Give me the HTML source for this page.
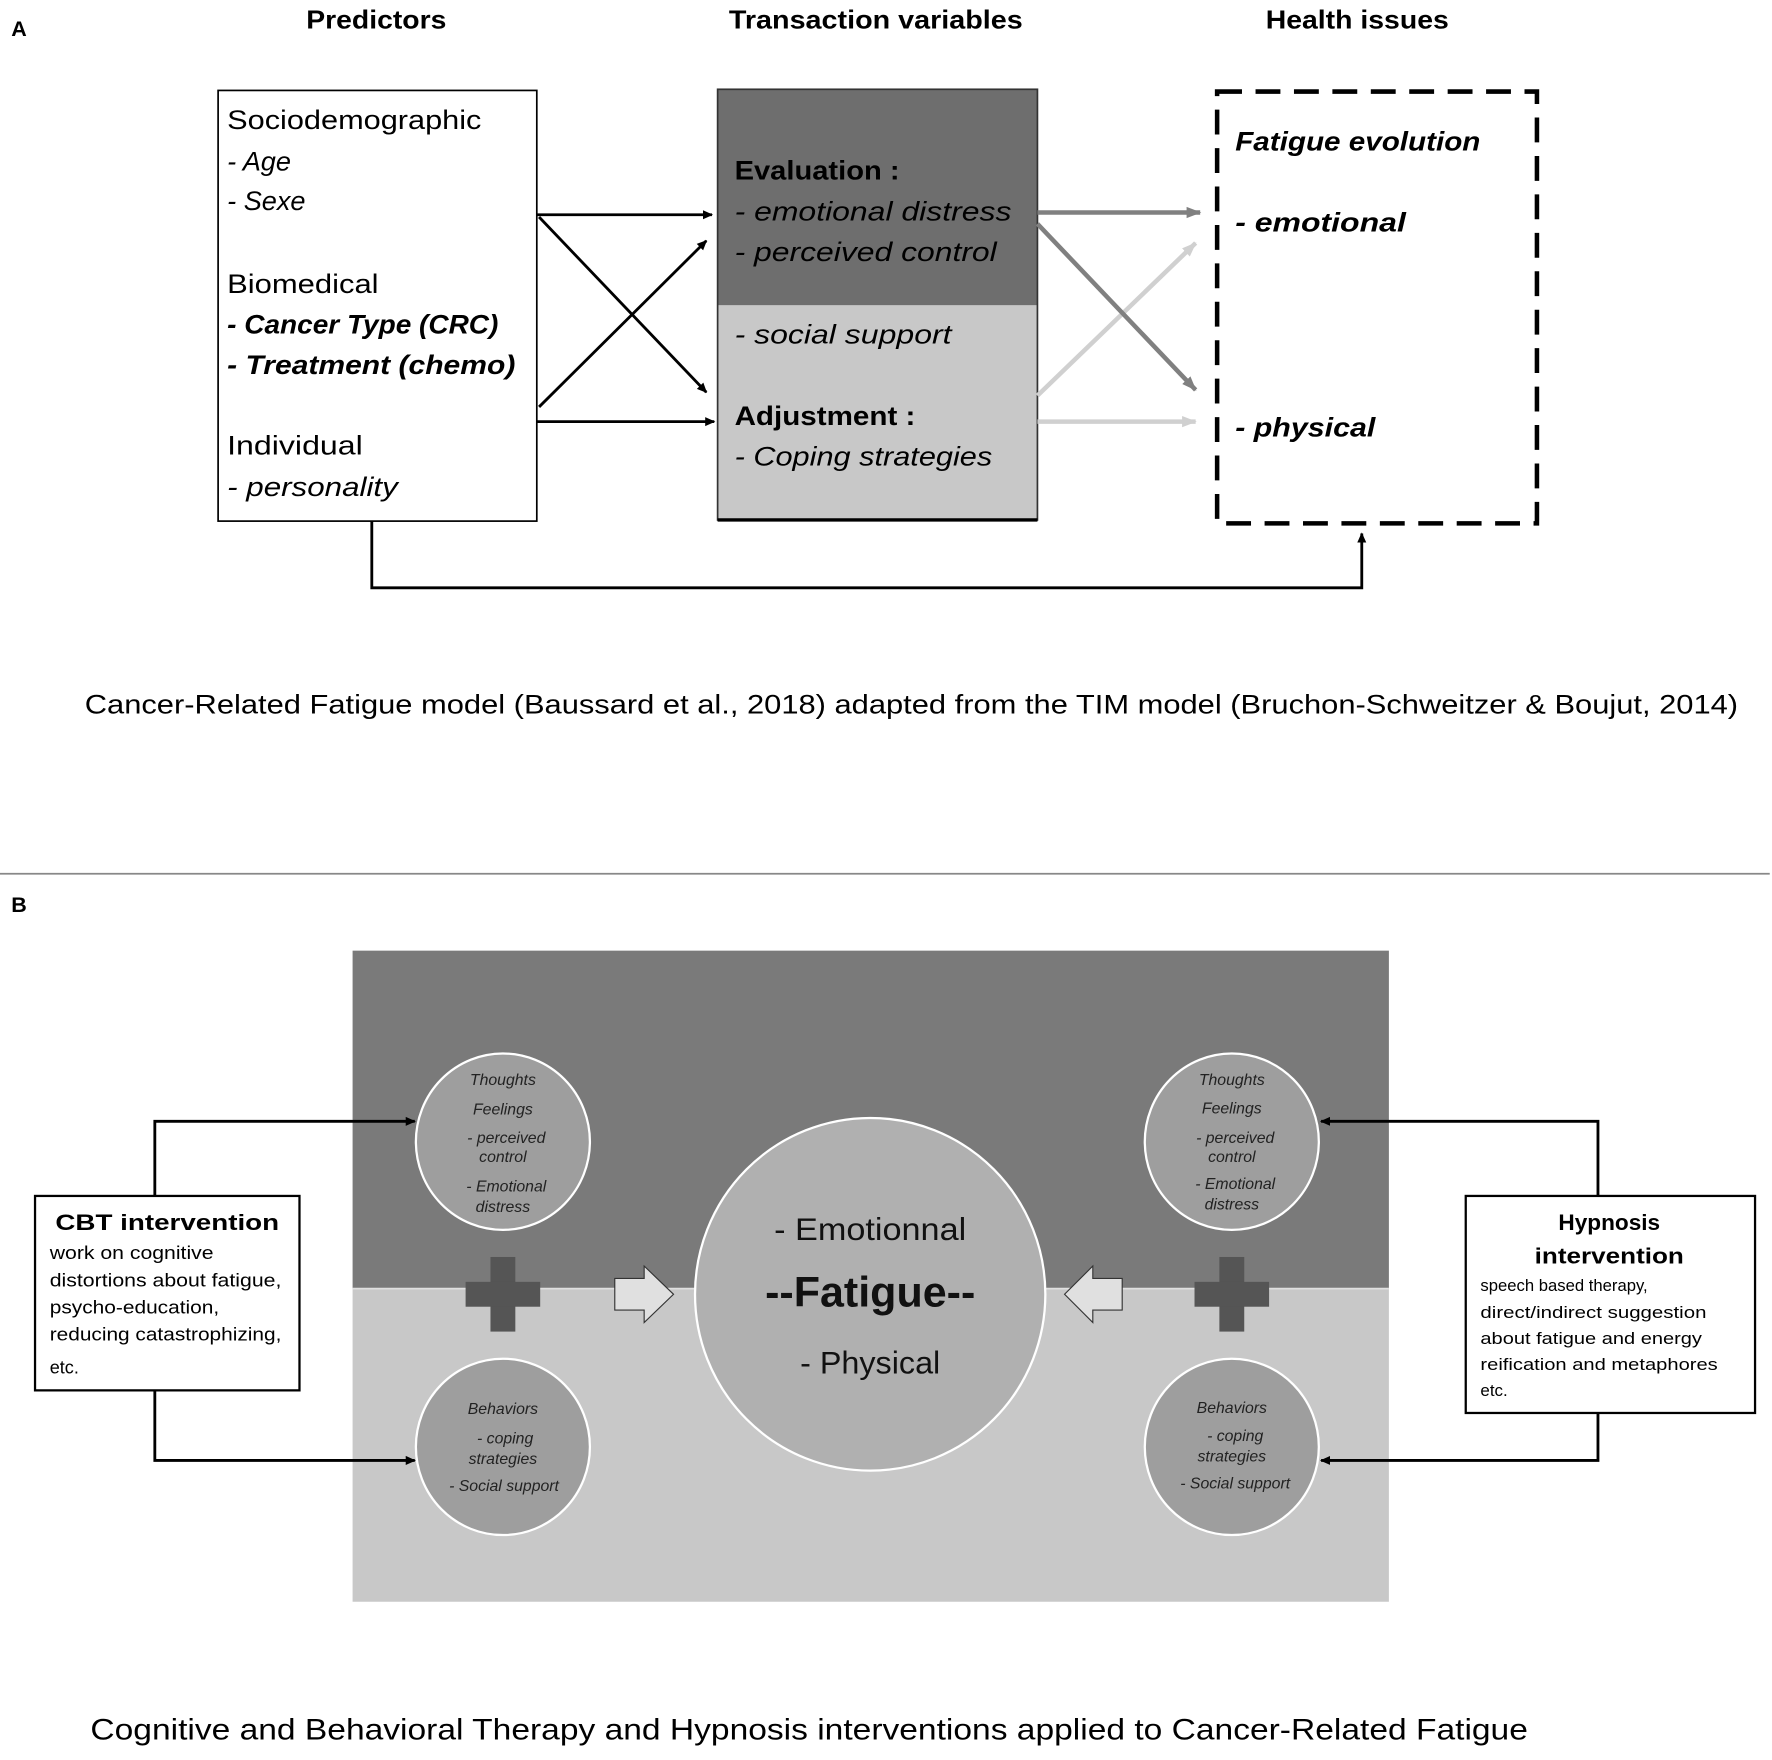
<!DOCTYPE html>
<html><head><meta charset="utf-8"><style>html,body{margin:0;padding:0;background:#fff}svg{display:block}</style></head>
<body>
<svg width="1772" height="1760" viewBox="0 0 1568 1557" preserveAspectRatio="none" xmlns="http://www.w3.org/2000/svg" font-family="Liberation Sans, sans-serif">
<defs>
<marker id="ab" markerWidth="10" markerHeight="10" refX="8" refY="5" orient="auto" markerUnits="userSpaceOnUse"><path d="M0,1 L9,5 L0,9 z" fill="#000"/></marker>
<marker id="ag" markerWidth="14" markerHeight="14" refX="12" refY="7" orient="auto" markerUnits="userSpaceOnUse"><path d="M0,2 L13,7 L0,12 z" fill="#808080"/></marker>
<marker id="al" markerWidth="14" markerHeight="14" refX="12" refY="7" orient="auto" markerUnits="userSpaceOnUse"><path d="M0,2 L13,7 L0,12 z" fill="#d0d0d0"/></marker>
</defs>
<!-- Panel A -->
<text x="10" y="32" font-size="19" font-weight="bold">A</text>
<g font-size="23" font-weight="bold" text-anchor="middle">
<text x="333" y="25" textLength="124" lengthAdjust="spacingAndGlyphs">Predictors</text>
<text x="775" y="25" textLength="260" lengthAdjust="spacingAndGlyphs">Transaction variables</text>
<text x="1201" y="25" textLength="162" lengthAdjust="spacingAndGlyphs">Health issues</text>
</g>
<rect x="193" y="80" width="282" height="381" fill="#fff" stroke="#000" stroke-width="1.5"/>
<g font-size="24">
<text x="201" y="114" textLength="225" lengthAdjust="spacingAndGlyphs">Sociodemographic</text>
<text x="201" y="151" font-style="italic">- Age</text>
<text x="201" y="186" font-style="italic">- Sexe</text>
<text x="201" y="259" textLength="134" lengthAdjust="spacingAndGlyphs">Biomedical</text>
<text x="201" y="295" font-style="italic" font-weight="bold" textLength="240" lengthAdjust="spacingAndGlyphs">- Cancer Type (CRC)</text>
<text x="201" y="331" font-style="italic" font-weight="bold" textLength="255" lengthAdjust="spacingAndGlyphs">- Treatment (chemo)</text>
<text x="201" y="402" textLength="120" lengthAdjust="spacingAndGlyphs">Individual</text>
<text x="201" y="439" font-style="italic" textLength="151" lengthAdjust="spacingAndGlyphs">- personality</text>
</g>
<rect x="635" y="270" width="283" height="190" fill="#c8c8c8"/>
<rect x="635" y="79" width="283" height="191" fill="#6e6e6e"/>
<rect x="635" y="79" width="283" height="381" fill="none" stroke="#333" stroke-width="1.5"/>
<line x1="635" y1="460" x2="918" y2="460" stroke="#000" stroke-width="3"/>
<g font-size="24" fill="#000">
<text x="650" y="159" font-weight="bold" textLength="146" lengthAdjust="spacingAndGlyphs">Evaluation :</text>
<text x="650" y="195" font-style="italic" textLength="245" lengthAdjust="spacingAndGlyphs">-  emotional distress</text>
<text x="650" y="231" font-style="italic" textLength="232" lengthAdjust="spacingAndGlyphs">-  perceived control</text>
<text x="650" y="304" font-style="italic" textLength="192" lengthAdjust="spacingAndGlyphs">-  social support</text>
<text x="650" y="376" font-weight="bold" textLength="160" lengthAdjust="spacingAndGlyphs">Adjustment :</text>
<text x="650" y="412" font-style="italic" textLength="228" lengthAdjust="spacingAndGlyphs">- Coping strategies</text>
</g>
<rect x="1077" y="81" width="283" height="382" fill="none" stroke="#000" stroke-width="4" stroke-dasharray="22,12"/>
<g font-size="24" font-style="italic" font-weight="bold">
<text x="1093" y="133" textLength="217" lengthAdjust="spacingAndGlyphs">Fatigue evolution</text>
<text x="1093" y="205" textLength="151" lengthAdjust="spacingAndGlyphs">-  emotional</text>
<text x="1093" y="386" textLength="124" lengthAdjust="spacingAndGlyphs">-  physical</text>
</g>
<g stroke="#000" stroke-width="2.5" fill="none">
<line x1="475" y1="190" x2="630" y2="190" marker-end="url(#ab)"/>
<line x1="477" y1="192" x2="625" y2="347" marker-end="url(#ab)"/>
<line x1="477" y1="360" x2="625" y2="213" marker-end="url(#ab)"/>
<line x1="475" y1="373" x2="632" y2="373" marker-end="url(#ab)"/>
<polyline points="329,461 329,520 1205,520 1205,472" marker-end="url(#ab)"/>
</g>
<g stroke-width="4" fill="none">
<line x1="918" y1="188" x2="1062" y2="188" stroke="#808080" marker-end="url(#ag)"/>
<line x1="918" y1="350" x2="1058" y2="215" stroke="#d0d0d0" marker-end="url(#al)"/>
<line x1="918" y1="198" x2="1058" y2="345" stroke="#808080" marker-end="url(#ag)"/>
<line x1="918" y1="373" x2="1058" y2="373" stroke="#d0d0d0" marker-end="url(#al)"/>
</g>
<text x="75" y="631" font-size="24" textLength="1463" lengthAdjust="spacingAndGlyphs">Cancer-Related Fatigue model (Baussard et al., 2018) adapted from the TIM model (Bruchon-Schweitzer &amp; Boujut, 2014)</text>
<line x1="0" y1="773" x2="1566" y2="773" stroke="#888" stroke-width="1.5"/>
<!-- Panel B -->
<text x="10" y="807" font-size="19" font-weight="bold">B</text>
<rect x="312" y="1140" width="917" height="277" fill="#c8c8c8"/>
<rect x="312" y="841" width="917" height="299" fill="#7a7a7a"/>
<line x1="312" y1="1140" x2="1229" y2="1140" stroke="#e0e0e0" stroke-width="1.5"/>
<g fill="#9e9e9e" stroke="#fff" stroke-width="2">
<ellipse cx="445" cy="1010" rx="77" ry="78"/>
<ellipse cx="445" cy="1280" rx="77" ry="78"/>
<ellipse cx="1090" cy="1010" rx="77" ry="78"/>
<ellipse cx="1090" cy="1280" rx="77" ry="78"/>
<ellipse cx="770" cy="1145" rx="155" ry="156" fill="#b0b0b0"/>
</g>
<g fill="#555">
<rect x="434" y="1112" width="22" height="66"/><rect x="412" y="1134" width="66" height="22"/>
<rect x="1079" y="1112" width="22" height="66"/><rect x="1057" y="1134" width="66" height="22"/>
</g>
<path d="M544,1131 L570,1131 L570,1120 L596,1145 L570,1170 L570,1159 L544,1159 z" fill="#e0e0e0" stroke="#333" stroke-width="1"/>
<path d="M993,1131 L967,1131 L967,1120 L942,1145 L967,1170 L967,1159 L993,1159 z" fill="#e0e0e0" stroke="#333" stroke-width="1"/>
<g font-size="14" font-style="italic" text-anchor="middle" fill="#222">
<text x="445" y="960">Thoughts</text><text x="445" y="986">Feelings</text>
<text x="448" y="1011">- perceived</text><text x="445" y="1028">control</text>
<text x="448" y="1054">- Emotional</text><text x="445" y="1072">distress</text>
<text x="445" y="1251">Behaviors</text><text x="447" y="1277">- coping</text>
<text x="445" y="1295">strategies</text><text x="446" y="1319">- Social support</text>
<text x="1090" y="960">Thoughts</text><text x="1090" y="985">Feelings</text>
<text x="1093" y="1011">- perceived</text><text x="1090" y="1028">control</text>
<text x="1093" y="1052">- Emotional</text><text x="1090" y="1070">distress</text>
<text x="1090" y="1250">Behaviors</text><text x="1093" y="1275">- coping</text>
<text x="1090" y="1293">strategies</text><text x="1093" y="1317">- Social support</text>
</g>
<g text-anchor="middle" fill="#111">
<text x="770" y="1097" font-size="28" textLength="170" lengthAdjust="spacingAndGlyphs">- Emotionnal</text>
<text x="770" y="1156" font-size="38" font-weight="bold" textLength="186" lengthAdjust="spacingAndGlyphs">--Fatigue--</text>
<text x="770" y="1215" font-size="28" textLength="124" lengthAdjust="spacingAndGlyphs">- Physical</text>
</g>
<rect x="31" y="1058" width="234" height="172" fill="#fff" stroke="#000" stroke-width="2"/>
<rect x="1297" y="1058" width="256" height="192" fill="#fff" stroke="#000" stroke-width="2"/>
<text x="148" y="1088" font-size="20" font-weight="bold" text-anchor="middle" textLength="198" lengthAdjust="spacingAndGlyphs">CBT intervention</text>
<g font-size="16">
<text x="44" y="1114" textLength="145" lengthAdjust="spacingAndGlyphs">work on cognitive</text>
<text x="44" y="1138" textLength="205" lengthAdjust="spacingAndGlyphs">distortions about fatigue,</text>
<text x="44" y="1162" textLength="150" lengthAdjust="spacingAndGlyphs">psycho-education,</text>
<text x="44" y="1186" textLength="205" lengthAdjust="spacingAndGlyphs">reducing catastrophizing,</text>
<text x="44" y="1215">etc.</text>
</g>
<g font-size="20" font-weight="bold" text-anchor="middle">
<text x="1424" y="1088">Hypnosis</text><text x="1424" y="1118" textLength="132" lengthAdjust="spacingAndGlyphs">intervention</text>
</g>
<g font-size="15">
<text x="1310" y="1142" textLength="148" lengthAdjust="spacingAndGlyphs">speech based therapy,</text>
<text x="1310" y="1166" textLength="200" lengthAdjust="spacingAndGlyphs">direct/indirect suggestion</text>
<text x="1310" y="1189" textLength="196" lengthAdjust="spacingAndGlyphs">about fatigue and energy</text>
<text x="1310" y="1212" textLength="210" lengthAdjust="spacingAndGlyphs">reification and metaphores</text>
<text x="1310" y="1235">etc.</text>
</g>
<g stroke="#000" stroke-width="2.5" fill="none">
<polyline points="137,1058 137,992 367,992" marker-end="url(#ab)"/>
<polyline points="137,1230 137,1292 367,1292" marker-end="url(#ab)"/>
<polyline points="1414,1058 1414,992 1169,992" marker-end="url(#ab)"/>
<polyline points="1414,1250 1414,1292 1169,1292" marker-end="url(#ab)"/>
</g>
<text x="80" y="1539" font-size="26" textLength="1272" lengthAdjust="spacingAndGlyphs">Cognitive and Behavioral Therapy and Hypnosis interventions applied to Cancer-Related Fatigue</text>
</svg>
</body></html>
